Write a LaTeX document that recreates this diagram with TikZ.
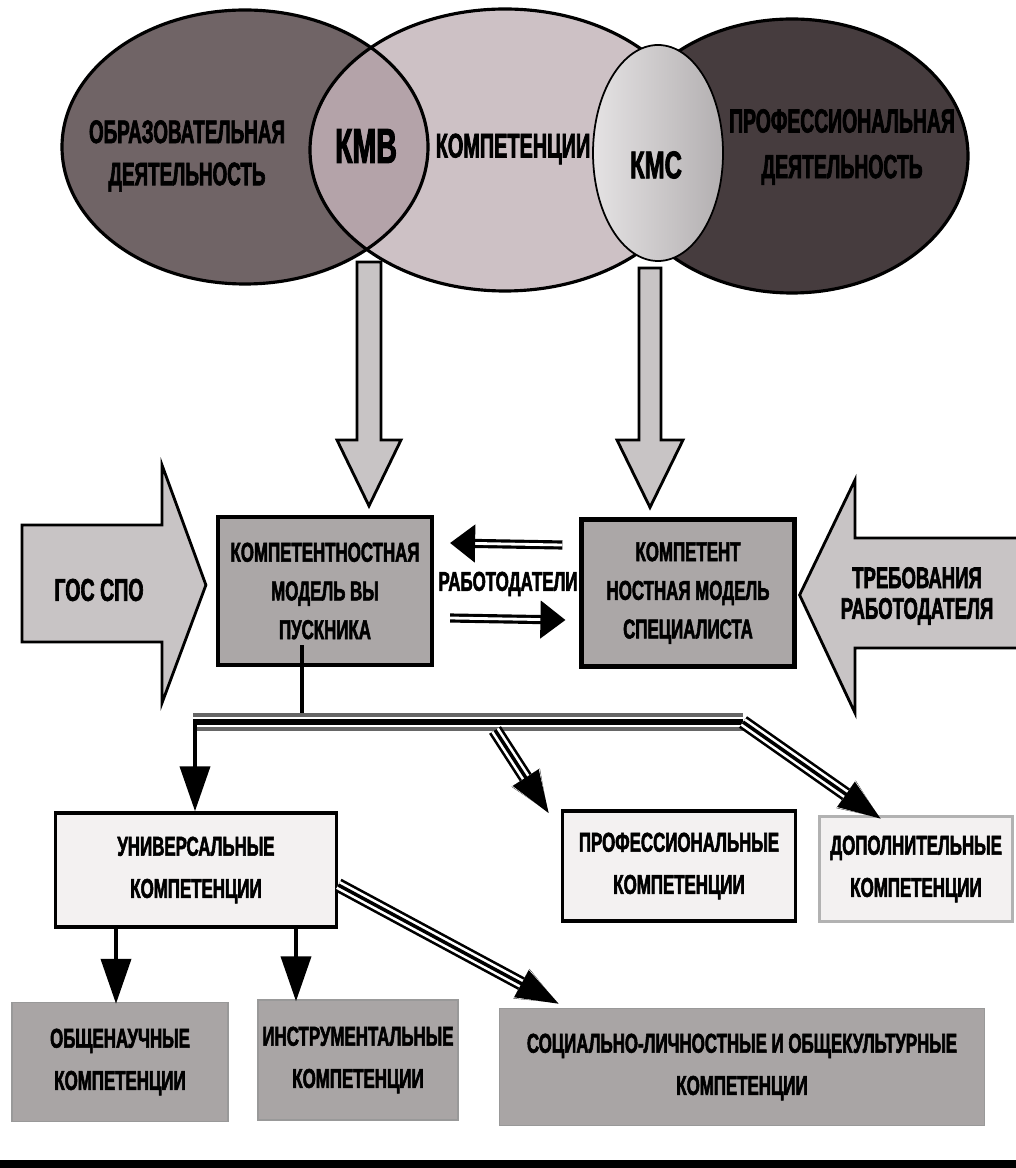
\documentclass[tikz,border=0pt]{standalone}
\usepackage{fontspec}
\setmainfont{Liberation Sans}
\newfontfamily\elfont{Liberation Sans}[FakeStretch=0.58, BoldFeatures={FakeBold=2}]
\newfontfamily\condfont{Liberation Sans}[FakeStretch=0.62, BoldFeatures={FakeBold=2}]
\usetikzlibrary{arrows.meta,calc}

\definecolor{obrcol}{RGB}{112,100,102}
\definecolor{kompcol}{RGB}{205,193,197}
\definecolor{kmvcol}{RGB}{180,163,169}
\definecolor{profcol}{RGB}{70,60,62}
\definecolor{kmccol}{RGB}{196,191,193}
\definecolor{arrcol}{RGB}{200,196,197}
\definecolor{modcol}{RGB}{171,167,167}
\definecolor{lightcol}{RGB}{243,241,241}
\definecolor{botcol}{RGB}{169,165,165}

\tikzset{
	elbl/.style={font=\elfont\bfseries\fontsize{18.5}{24}\selectfont, align=center, inner sep=0pt},
	lbl/.style={font=\condfont\bfseries\fontsize{15.5}{24}\selectfont, align=center, inner sep=0pt},
	hollow/.style={draw=black, line width=1.6pt, fill=arrcol, line join=miter},
	modbox/.style={draw=black, line width=2.4pt, fill=modcol},
	compbox/.style={draw=black, line width=2pt, fill=lightcol},
	greybox/.style={draw=gray!80, line width=0.8pt, fill=botcol},
	arr/.style={draw=black, line width=2.2pt, -{Triangle[length=0.9cm,width=0.6cm]}},
	dbl/.style={draw=black, line width=1.8pt, double=white, double distance=1.6pt, -{Triangle[length=0.5cm,width=0.75cm]}},
	stripe/.style={draw=black, line width=2pt, -{Triangle[length=0.85cm,width=0.6cm]},
		preaction={draw=white, line width=5pt, preaction={draw=black, line width=8pt}}},
	barline/.style={draw=black, line width=3.6pt,
		preaction={draw=white, line width=6.2pt, preaction={draw=gray!80!black, line width=10pt}}}
}

\begin{document}
\begin{tikzpicture}[x=0.02cm,y=-0.02cm]

	\useasboundingbox (0,0) rectangle (1016,1168);

	% three fields and the two models in them
	\fill[obrcol] (245,147) ellipse (183 and 137);
	\fill[kompcol] (505,150) ellipse (195 and 141);
	\begin{scope}
		\clip (245,147) ellipse (183 and 137);
		\fill[kmvcol] (505,150) ellipse (195 and 141);
	\end{scope}
	\draw[line width=1.8pt] (245,147) ellipse (183 and 137);
	\draw[line width=1.8pt] (505,150) ellipse (195 and 141);
	\draw[line width=1.8pt, fill=profcol] (792,156) ellipse (176 and 137);
	\shade[left color=white!55!kmccol, right color=kmccol!75!gray] (658,153) ellipse (65 and 108);
	\draw[line width=1pt] (658,153) ellipse (65 and 108);

	\node[elbl] (obr) at (187,156) {ОБРАЗОВАТЕЛЬНАЯ\\ДЕЯТЕЛЬНОСТЬ};
	\node[elbl, font=\elfont\bfseries\fontsize{28}{28}\selectfont] (kmv) at (366,146) {КМВ};
	\node[elbl, font=\elfont\bfseries\fontsize{19.5}{19.5}\selectfont] (komp) at (513,149) {КОМПЕТЕНЦИИ};
	\node[lbl, font=\condfont\bfseries\fontsize{22}{22}\selectfont] (kmc) at (656,165) {КМС};
	\node[elbl, font=\elfont\bfseries\fontsize{19}{26}\selectfont] (prof) at (842,147) {ПРОФЕССИОНАЛЬНАЯ\\ДЕЯТЕЛЬНОСТЬ};

	% the two models
	\node[modbox, minimum width=4.28cm, minimum height=2.96cm] (mvyp) at (325,591) {};
	\node[lbl, font=\condfont\bfseries\fontsize{15.5}{22}\selectfont] (mvypt) at (mvyp) {КОМПЕТЕНТНОСТНАЯ\\МОДЕЛЬ ВЫ\\ПУСКНИКА};
	\node[modbox, minimum width=4.26cm, minimum height=2.94cm] (mspec) at (688,593) {};
	\node[lbl, font=\condfont\bfseries\fontsize{15.5}{22}\selectfont] (mspect) at (mspec) {КОМПЕТЕНТ\\НОСТНАЯ МОДЕЛЬ\\СПЕЦИАЛИСТА};

	% big arrows
	\coordinate (la) at (369,262);
	\coordinate (ra) at (650,268);
	\draw[hollow] (357,262) -- (357,440) -- (337,440) -- ($(mvyp.north -| la)+(0,-9)$) -- (401,440) -- (381,440) -- (381,262) -- cycle;
	\draw[hollow] (639,268) -- (639,440) -- (617,440) -- ($(mspec.north -| ra)+(0,-10)$) -- (683,440) -- (661,440) -- (661,268) -- cycle;
	\draw[hollow] (22,525) -- (162,525) -- (162,465) -- ($(mvyp.west)+(-10,-6)$) -- (162,703) -- (162,642) -- (22,642) -- cycle;
	\draw[hollow] (1030,538) -- (855,538) -- (855,480) -- ($(mspec.east)+(3,2)$) -- (855,713) -- (855,648) -- (1030,648);
	\node[lbl, font=\condfont\bfseries\fontsize{18}{18}\selectfont] (gos) at (99,590) {ГОС СПО};
	\node[lbl, font=\condfont\bfseries\fontsize{17}{17.5}\selectfont] (treb) at (917,596) {ТРЕБОВАНИЯ\\РАБОТОДАТЕЛЯ};

	\draw[dbl] ($(mspec.west)+(-17,-48)$) -- ($(mvyp.east)+(16,-48)$);
	\draw[dbl] ($(mvyp.east)+(16,27)$) -- ($(mspec.west)+(-14,27)$);
	\node[lbl, font=\condfont\bfseries\fontsize{15.5}{15.5}\selectfont] (rab) at (508,584) {РАБОТОДАТЕЛИ};

	% competences
	\node[compbox, minimum width=5.62cm, minimum height=2.28cm] (univ) at (196,870) {};
	\node[lbl] (univt) at (univ) {УНИВЕРСАЛЬНЫЕ\\КОМПЕТЕНЦИИ};
	\node[compbox, minimum width=4.66cm, minimum height=2.2cm] (profk) at (679,866) {};
	\node[lbl] (profkt) at (profk) {ПРОФЕССИОНАЛЬНЫЕ\\КОМПЕТЕНЦИИ};
	\node[compbox, draw=gray!60, minimum width=3.86cm, minimum height=2.1cm] (dop) at (916,869) {};
	\node[lbl] (dopt) at (dop) {ДОПОЛНИТЕЛЬНЫЕ\\КОМПЕТЕНЦИИ};

	\node[greybox, minimum width=4.32cm, minimum height=2.38cm] (obsch) at (120,1062) {};
	\node[lbl] (obscht) at (obsch) {ОБЩЕНАУЧНЫЕ\\КОМПЕТЕНЦИИ};
	\node[greybox, minimum width=4.0cm, minimum height=2.4cm] (instr) at (358,1060) {};
	\node[lbl] (instrt) at (instr) {ИНСТРУМЕНТАЛЬНЫЕ\\КОМПЕТЕНЦИИ};
	\node[greybox, minimum width=9.7cm, minimum height=2.34cm] (soc) at (742,1067) {};
	\node[lbl] (soct) at (soc) {СОЦИАЛЬНО-ЛИЧНОСТНЫЕ И ОБЩЕКУЛЬТУРНЫЕ\\КОМПЕТЕНЦИИ};

	% tree
	\coordinate (bt) at (302,722);
	\coordinate (bl) at (193,722);
	\coordinate (br) at (743,722);
	\coordinate (bm) at (495,730);
	\draw[line width=2.6pt] ($(mvyp.south -| bt)+(0,-22)$) -- (bt);
	\draw[barline] (bl) -- (br);
	\draw[arr] ($(bl)+(2,0)$) -- ($(bl |- univ.north)+(2,0)$);
	\draw[stripe] (bm) -- ($(profk.north west)+(-12,4)$);
	\draw[stripe] (br) -- ($(dop.north west)+(63,4)$);

	\draw[arr] ($(univ.south)+(-80,0)$) -- ($(obsch.north)+(-4,2)$);
	\draw[arr] ($(univ.south)+(100,0)$) -- ($(instr.north)+(-62,2)$);
	\draw[stripe] ($(univ.east)+(0,15)$) -- ($(soc.north west)+(60,-4)$);

	% page edge
	\fill[black] (0,1160) rectangle (1016,1168);

\end{tikzpicture}
\end{document}
